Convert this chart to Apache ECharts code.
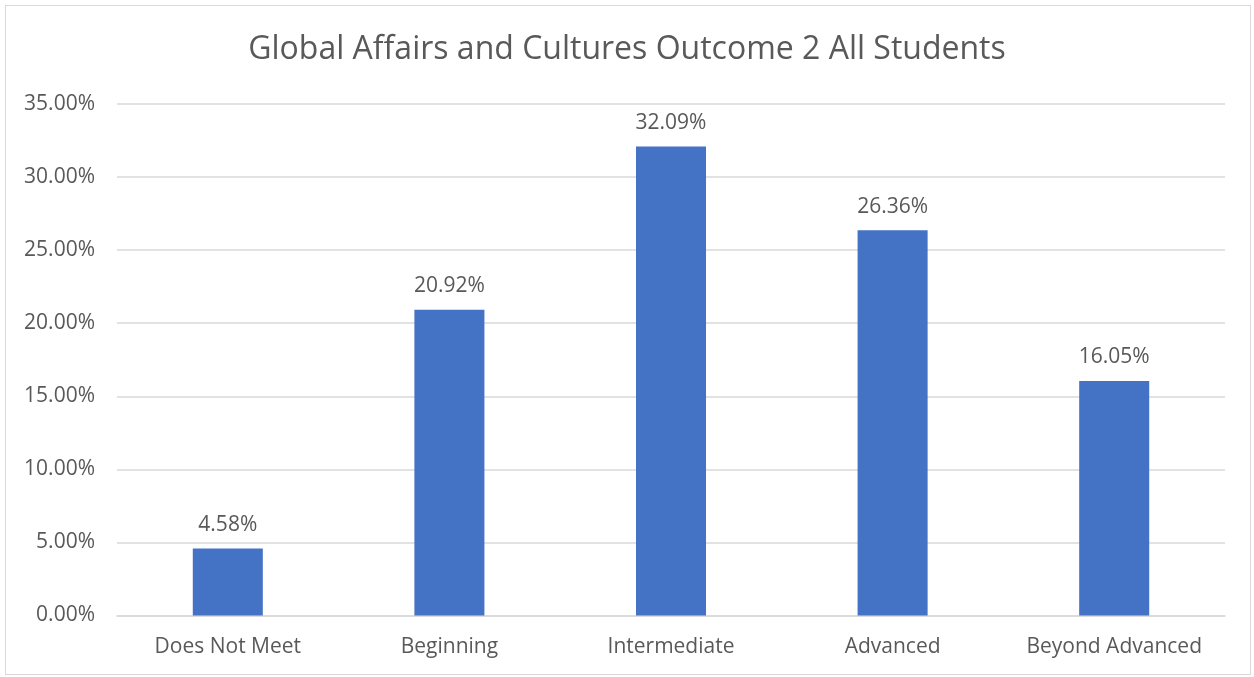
<!DOCTYPE html>
<html>
<head>
<meta charset="utf-8">
<script src="https://cdn.jsdelivr.net/npm/echarts@6/dist/echarts.min.js"></script>
<style>
  html, body { margin: 0; padding: 0; background: #fff; }
  #frame { position: absolute; left: 5px; top: 5px; width: 1246px; height: 670px; border: 1px solid #d9d9d9; box-sizing: border-box; }
  #chart { position: absolute; left: 0; top: 0; width: 1254px; height: 677px; }
</style>
</head>
<body>
<div id="frame"></div>
<div id="chart"></div>
<script>
// Outcome levels and share of students at each level (percent)
const categories = ['Does Not Meet', 'Beginning', 'Intermediate', 'Advanced', 'Beyond Advanced'];
const shares = [4.58, 20.92, 32.09, 26.36, 16.05];
const yTicks = { min: 0, max: 35, step: 5 };

const FONT = '"Open Sans", "Noto Sans", sans-serif';
const TEXT = '#595959';

const chart = echarts.init(document.getElementById('chart'), null, { renderer: 'canvas' });
chart.setOption({
  animation: false,
  backgroundColor: 'transparent',
  title: {
    text: 'Global Affairs and Cultures Outcome 2 All Students',
    left: 'center',
    top: 29,
    textStyle: { fontFamily: FONT, fontSize: 32, fontWeight: 'normal', color: TEXT }
  },
  grid: { left: 117, right: 29, top: 104, bottom: 61.5 },
  xAxis: {
    type: 'category',
    data: categories,
    axisTick: { show: false },
    axisLine: { lineStyle: { color: '#d9d9d9', width: 1.5 } },
    axisLabel: { fontFamily: FONT, fontSize: 21, color: TEXT, margin: 21, interval: 0 }
  },
  yAxis: {
    type: 'value',
    min: yTicks.min,
    max: yTicks.max,
    interval: yTicks.step,
    axisLine: { show: false },
    axisTick: { show: false },
    splitLine: { lineStyle: { color: '#d9d9d9', width: 1.5 } },
    axisLabel: {
      fontFamily: FONT, fontSize: 21, color: TEXT, margin: 22,
      formatter: v => v.toFixed(2) + '%'
    }
  },
  series: [{
    type: 'bar',
    data: shares,
    barWidth: '31.6%',
    itemStyle: { color: '#4472C4' },
    label: {
      show: true,
      position: 'top',
      distance: 13,
      fontFamily: FONT,
      fontSize: 21,
      color: TEXT,
      formatter: p => p.value.toFixed(2) + '%'
    }
  }]
});
</script>
</body>
</html>
